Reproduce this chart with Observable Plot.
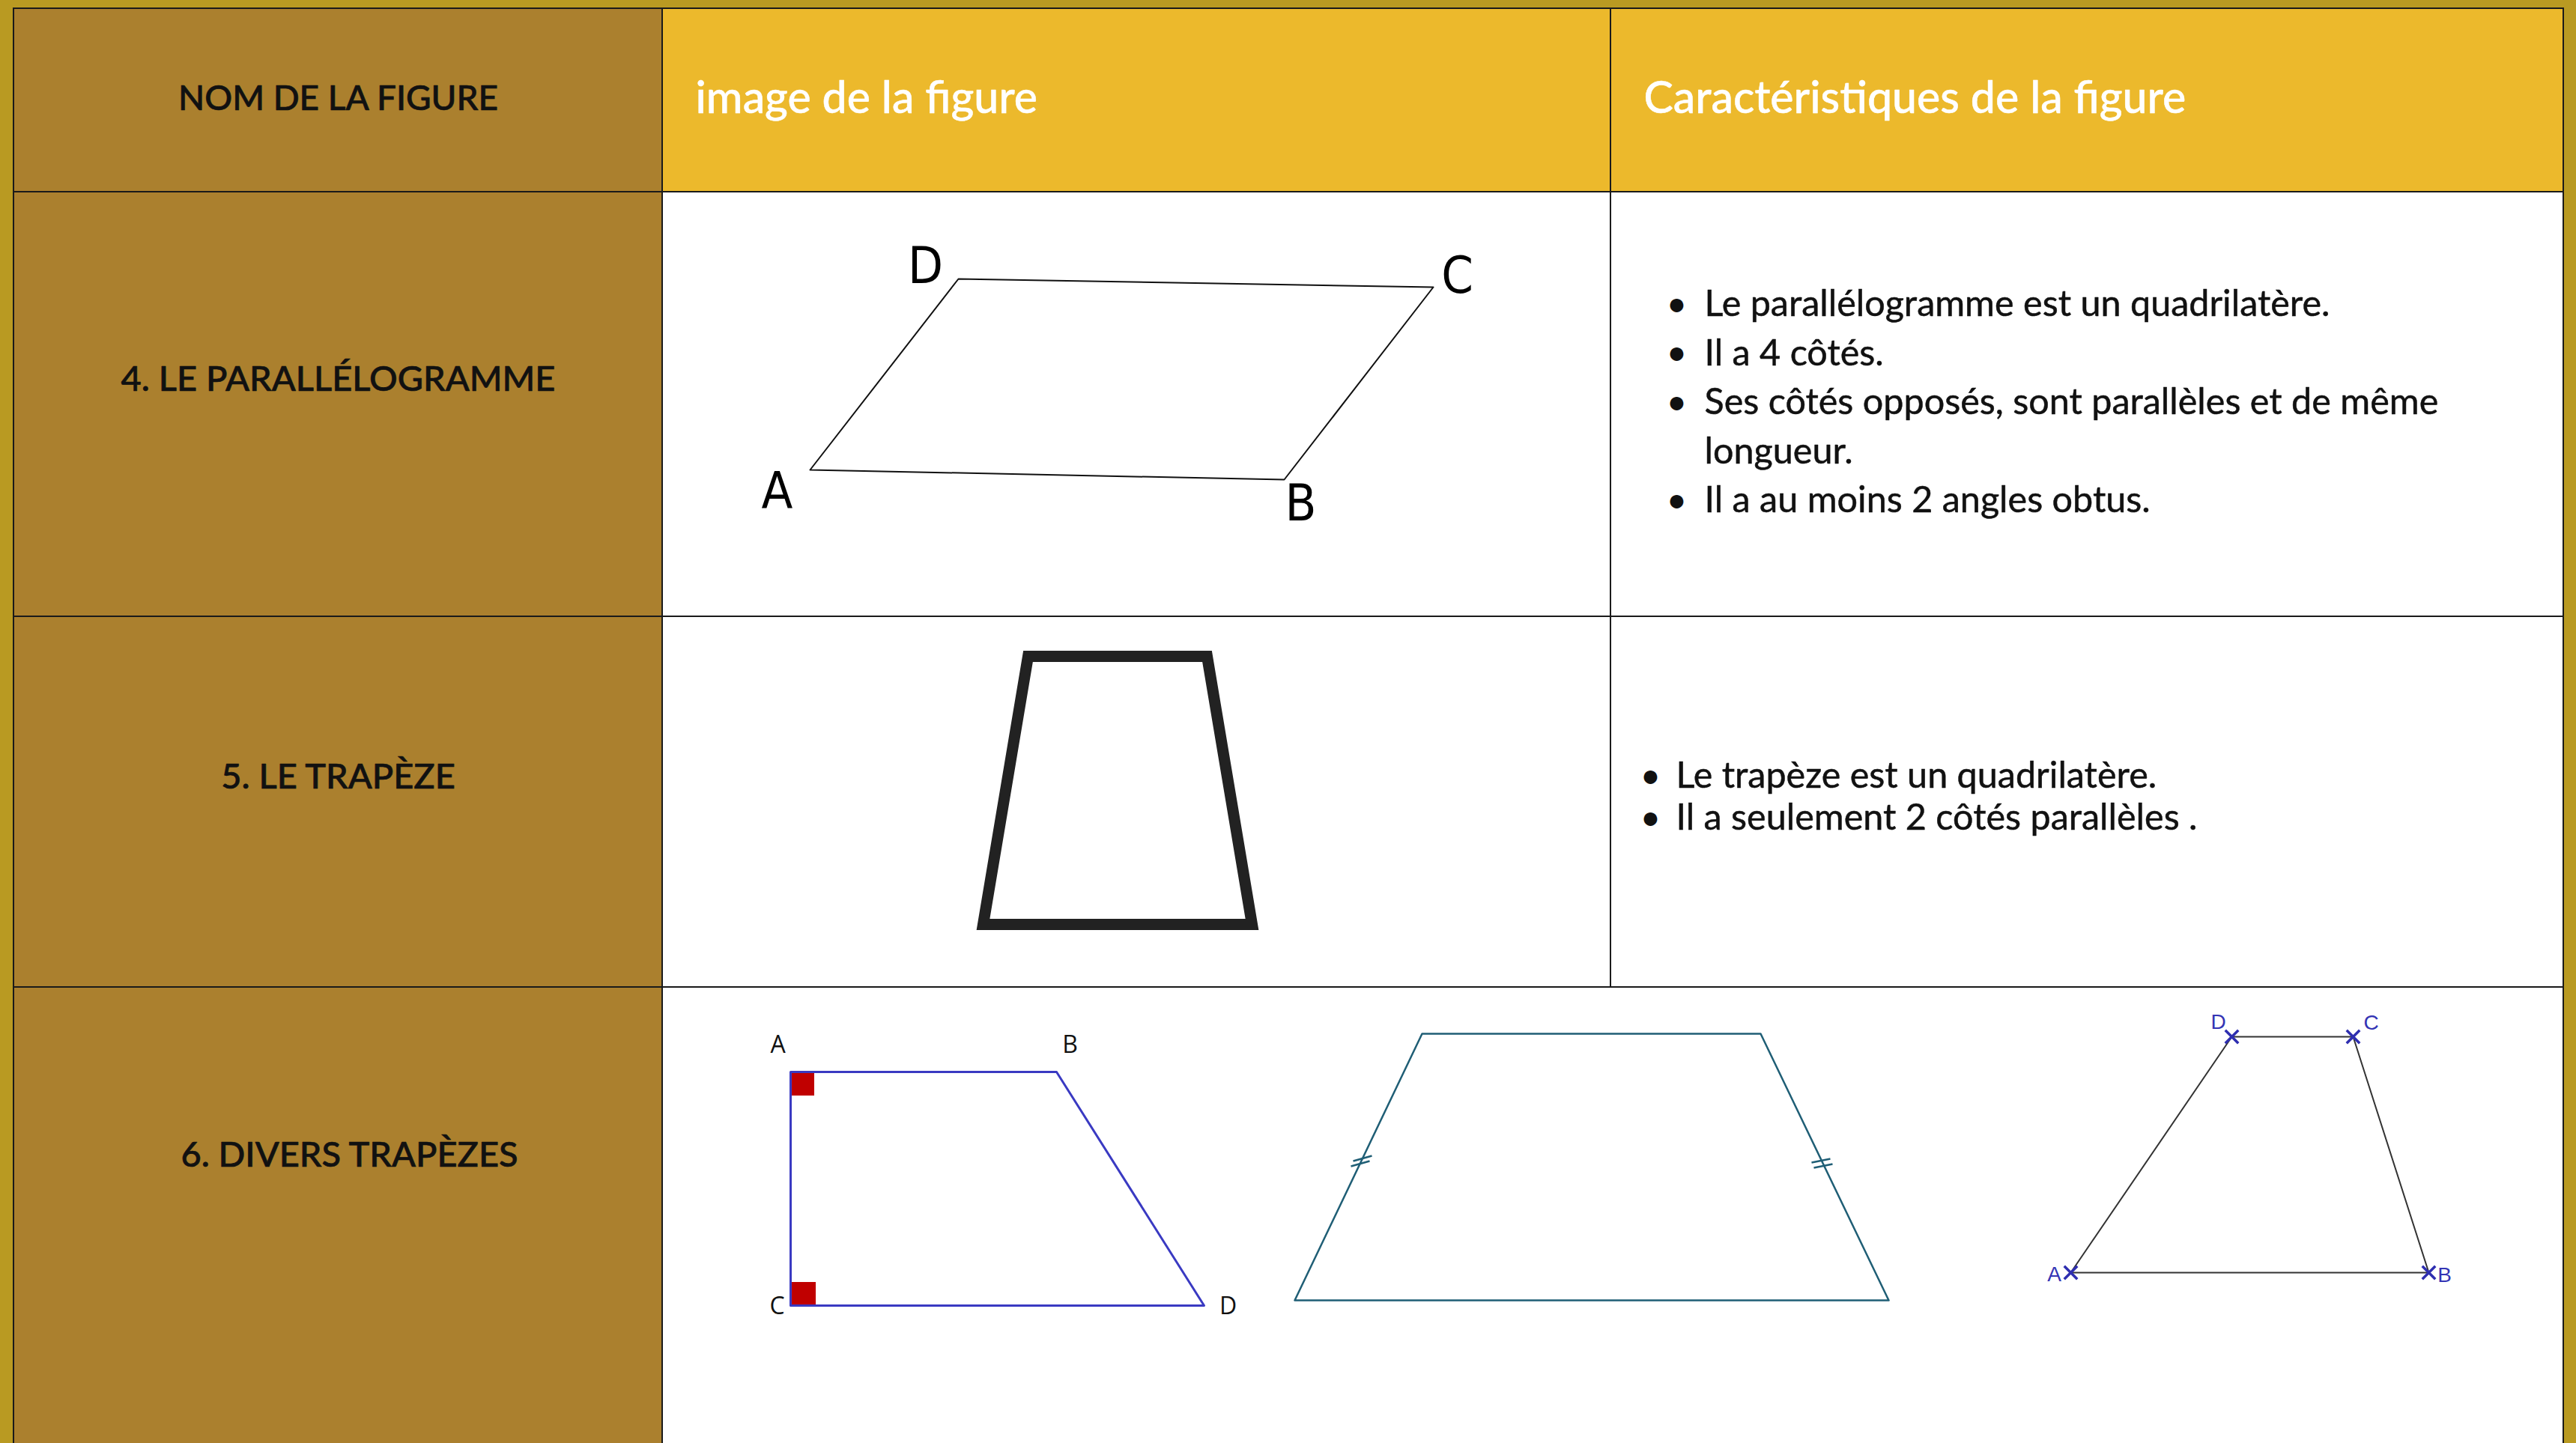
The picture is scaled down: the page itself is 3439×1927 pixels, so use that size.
<!DOCTYPE html>
<html><head><meta charset="utf-8">
<script src="https://cdn.jsdelivr.net/npm/d3@7"></script>
<script src="https://cdn.jsdelivr.net/npm/@observablehq/plot@0.6"></script>
<style>
html,body{margin:0;padding:0;background:#B99A22;overflow:hidden;}
#chart svg{display:block}
</style></head><body><div id="chart"></div>
<script>
const W = 3439, H = 1927;

// ---- table content ----
const headers = ["NOM DE LA FIGURE", "image de la figure", "Caractéristiques de la figure"];
const rowNames = ["4. LE PARALLÉLOGRAMME", "5. LE TRAPÈZE", "6. DIVERS TRAPÈZES"];
const colEdges = [18, 884, 2150, 3422];
const rowEdges = [11, 256, 823, 1318, 1950];
const rowNameY = [506, 1037, 1542];
const rowNameDx = [0, 0, 15];
const bulletsParallelogramme = [
  {text: "Le parallélogramme est un quadrilatère.", bullet: true},
  {text: "Il a 4 côtés.", bullet: true},
  {text: "Ses côtés opposés, sont parallèles et de même", bullet: true},
  {text: "longueur.", bullet: false},
  {text: "Il a au moins 2 angles obtus.", bullet: true}
];
const bulletsTrapeze = [
  {text: "Le trapèze est un quadrilatère.", bullet: true},
  {text: "Il a seulement 2 côtés parallèles .", bullet: true}
];

// ---- figures (vertices) ----
const parallelogramme = [
  {name: "A", x: 1081, y: 627}, {name: "B", x: 1714, y: 640},
  {name: "C", x: 1913, y: 383}, {name: "D", x: 1279, y: 372}
];
const parallelogrammeLabels = [
  {name: "D", x: 1235, y: 356}, {name: "C", x: 1945, y: 369},
  {name: "A", x: 1037, y: 657}, {name: "B", x: 1736, y: 673}
];
const trapeze = [
  {x: 1372, y: 876}, {x: 1611, y: 876}, {x: 1671, y: 1234}, {x: 1312, y: 1234}
];
const trapezeRectangle = [
  {name: "A", x: 1055, y: 1431}, {name: "B", x: 1410, y: 1431},
  {name: "D", x: 1607, y: 1743}, {name: "C", x: 1055, y: 1743}
];
const trapezeRectangleLabels = [
  {name: "A", x: 1038, y: 1395}, {name: "B", x: 1428, y: 1395},
  {name: "C", x: 1037, y: 1744}, {name: "D", x: 1639, y: 1744}
];
const anglesDroits = [
  {x1: 1056, x2: 1087, y1: 1432, y2: 1463},
  {x1: 1056, x2: 1089, y1: 1712, y2: 1743}
];
const trapezeIsocele = [
  {x: 1898, y: 1380}, {x: 2350, y: 1380}, {x: 2521, y: 1736}, {x: 1728, y: 1736}
];
const codages = [
  {x1: 1803, y1: 1557, x2: 1828, y2: 1550},
  {x1: 1806, y1: 1550, x2: 1831, y2: 1543},
  {x1: 2418, y1: 1552, x2: 2443, y2: 1547},
  {x1: 2421, y1: 1559, x2: 2446, y2: 1554}
];
const trapezeCroix = [
  {name: "A", x: 2764, y: 1699}, {name: "B", x: 3242, y: 1699},
  {name: "C", x: 3141, y: 1384}, {name: "D", x: 2979, y: 1384}
];
const trapezeCroixLabels = [
  {name: "D", x: 2961, y: 1365}, {name: "C", x: 3165, y: 1366},
  {name: "A", x: 2742, y: 1702}, {name: "B", x: 3263, y: 1703}
];

// ---- build cells ----
const cells = [];
for (let r = 0; r < rowEdges.length - 1; r++) {
  const y1 = rowEdges[r], y2 = rowEdges[r + 1];
  if (r === 3) {
    cells.push({x1: colEdges[0], x2: colEdges[1], y1, y2, kind: "name"});
    cells.push({x1: colEdges[1], x2: colEdges[3], y1, y2, kind: "body"});
  } else {
    for (let c = 0; c < 3; c++) {
      cells.push({x1: colEdges[c], x2: colEdges[c + 1], y1, y2,
        kind: c === 0 ? "name" : (r === 0 ? "header" : "body")});
    }
  }
}
const fills = {name: "#AB802E", header: "#ECB92C", body: "#FFFFFF"};

const linesP = bulletsParallelogramme.map((d, i) => ({...d, i}));
const linesT = bulletsTrapeze.map((d, i) => ({...d, i}));

const FONT = "Lato, 'Open Sans', sans-serif";

const plot = Plot.plot({
  width: W, height: H, margin: 0,
  x: {domain: [0, W], range: [0, W], axis: null},
  y: {domain: [0, H], range: [0, H], axis: null},
  style: {background: "#B99A22", fontFamily: FONT},
  marks: [
    Plot.rect([{x1: 0, x2: W, y1: 0, y2: H}], {x1: "x1", x2: "x2", y1: "y1", y2: "y2", fill: "#B99A22"}),
    ...Object.keys(fills).map(k =>
      Plot.rect(cells.filter(d => d.kind === k), {x1: "x1", x2: "x2", y1: "y1", y2: "y2", fill: fills[k]})),
    Plot.rect(cells, {x1: "x1", x2: "x2", y1: "y1", y2: "y2", fill: "none", stroke: "#1a1a1a", strokeWidth: 2}),

    // headers
    Plot.text([headers[0]], {x: (colEdges[0] + colEdges[1]) / 2, y: 132, text: d => d,
      fontSize: 46, fontWeight: 500, fill: "#111", stroke: "#111", strokeWidth: 0.7, textAnchor: "middle"}),
    Plot.text([headers[1]], {x: colEdges[1] + 44, y: 132, text: d => d,
      fontSize: 59, fontWeight: 500, fill: "#fff", stroke: "#fff", strokeWidth: 0.5, textAnchor: "start"}),
    Plot.text([headers[2]], {x: colEdges[2] + 44, y: 132, text: d => d,
      fontSize: 59, fontWeight: 500, fill: "#fff", stroke: "#fff", strokeWidth: 0.5, textAnchor: "start"}),

    // row names
    Plot.text(rowNames, {x: (colEdges[0] + colEdges[1]) / 2, y: (d, i) => rowNameY[i],
      text: d => d, fontSize: 47, fontWeight: 500, fill: "#111", stroke: "#111", strokeWidth: 0.7,
      textAnchor: "middle"}),

    // bullet lists
    Plot.text(linesP.filter(d => d.bullet), {x: colEdges[2] + 88, y: d => 406 + d.i * 65.5, text: () => "•",
      fontSize: 48, fill: "#111", textAnchor: "middle"}),
    Plot.text(linesP, {x: colEdges[2] + 125, y: d => 406 + d.i * 65.5, text: "text",
      fontSize: 48.5, fill: "#111", stroke: "#111", strokeWidth: 0.5, textAnchor: "start"}),
    Plot.text(linesT.filter(d => d.bullet), {x: colEdges[2] + 53, y: d => 1036 + d.i * 56, text: () => "•",
      fontSize: 48, fill: "#111", textAnchor: "middle"}),
    Plot.text(linesT, {x: colEdges[2] + 87, y: d => 1036 + d.i * 56, text: "text",
      fontSize: 48.5, fill: "#111", stroke: "#111", strokeWidth: 0.5, textAnchor: "start"}),

    // parallelogramme
    Plot.line(parallelogramme, {x: "x", y: "y", curve: "linear-closed", stroke: "#111", strokeWidth: 2}),
    Plot.text(parallelogrammeLabels, {x: "x", y: "y", text: "name", fontSize: 68, fill: "#000",
      fontFamily: "'Liberation Sans Narrow', 'DejaVu Sans Condensed', 'Open Sans', sans-serif"}),

    // trapèze
    Plot.line(trapeze, {x: "x", y: "y", curve: "linear-closed", stroke: "#222", strokeWidth: 15,
      strokeLinejoin: "miter", strokeMiterlimit: 10}),

    // trapèze rectangle
    Plot.rect(anglesDroits, {x1: "x1", x2: "x2", y1: "y1", y2: "y2", fill: "#C00000"}),
    Plot.line(trapezeRectangle, {x: "x", y: "y", curve: "linear-closed", stroke: "#3A3AC2", strokeWidth: 3}),
    Plot.text(trapezeRectangleLabels, {x: "x", y: "y", text: "name", fontSize: 32, fill: "#111",
      fontFamily: "'Open Sans', sans-serif"}),

    // trapèze isocèle
    Plot.line(trapezeIsocele, {x: "x", y: "y", curve: "linear-closed", stroke: "#1F5E75", strokeWidth: 2.5}),
    Plot.link(codages, {x1: "x1", y1: "y1", x2: "x2", y2: "y2", stroke: "#1F5E75", strokeWidth: 2.5}),

    // trapèze avec croix
    Plot.line(trapezeCroix, {x: "x", y: "y", curve: "linear-closed", stroke: "#333", strokeWidth: 2}),
    Plot.dot(trapezeCroix, {x: "x", y: "y", symbol: "times", r: 8, stroke: "#2E2EB0", strokeWidth: 3.5}),
    Plot.text(trapezeCroixLabels, {x: "x", y: "y", text: "name", fontSize: 28, fill: "#3434B4",
      fontFamily: "'Liberation Sans', Arial, sans-serif"})
  ]
});
// shift last row name slightly right, as in the picture
d3.select(plot).selectAll("text").filter(function() { return this.textContent === rowNames[2]; })
  .attr("dx", rowNameDx[2]);
document.getElementById("chart").appendChild(plot);
</script></body></html>
